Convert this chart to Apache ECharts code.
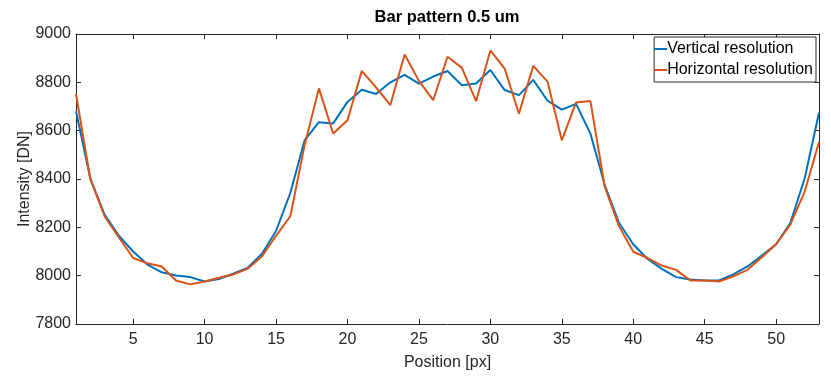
<!DOCTYPE html>
<html>
<head>
<meta charset="utf-8">
<script src="https://cdn.jsdelivr.net/npm/echarts@6/dist/echarts.min.js"></script>
<style>
  html, body { margin: 0; padding: 0; background: #fff; }
  #chart { width: 831px; height: 376px; }
</style>
</head>
<body>
<div id="chart"></div>
<script>
const positions = [];
for (let i = 1; i <= 53; i++) positions.push(i);

const vertical = [
  8680, 8403, 8253, 8165, 8100, 8046, 8014, 8001, 7994, 7976,
  7986, 8008, 8032, 8090, 8185, 8342, 8560, 8635, 8630, 8719,
  8769, 8752, 8800, 8831, 8795, 8824, 8847, 8788, 8795, 8851,
  8768, 8747, 8810, 8724, 8687, 8711, 8588, 8376, 8219, 8130,
  8069, 8028, 7994, 7984, 7980, 7980, 8005, 8038, 8083, 8130,
  8219, 8403, 8674
];
const horizontal = [
  8752, 8400, 8246, 8158, 8073, 8051, 8038, 7980, 7964, 7976,
  7991, 8005, 8028, 8079, 8165, 8246, 8540, 8775, 8588, 8643,
  8847, 8779, 8706, 8915, 8806, 8726, 8906, 8861, 8722, 8932,
  8857, 8670, 8868, 8803, 8560, 8717, 8723, 8369, 8205, 8099,
  8073, 8042, 8024, 7980, 7980, 7976, 7997, 8024, 8076, 8130,
  8212, 8348, 8553
];
const xTicks = [5, 10, 15, 20, 25, 30, 35, 40, 45, 50];

const axisColor = '#262626';
const font = 'Liberation Sans, Arial, sans-serif';

const chart = echarts.init(document.getElementById('chart'));

const xBase = {
  type: 'value', min: 1, max: 53,
  axisLine: { onZero: false, lineStyle: { color: axisColor, width: 1 } },
  axisTick: { inside: true, length: 5, customValues: xTicks, lineStyle: { color: axisColor } },
  splitLine: { show: false }
};
const yBase = {
  type: 'value', min: 7800, max: 9000, interval: 200,
  axisLine: { show: true, onZero: false, lineStyle: { color: axisColor, width: 1 } },
  axisTick: { show: true, inside: true, length: 5, lineStyle: { color: axisColor } },
  splitLine: { show: false }
};

chart.setOption({
  animation: false,
  textStyle: { fontFamily: font },
  title: {
    text: 'Bar pattern 0.5 um',
    left: 447, top: 9, padding: 0,
    textAlign: 'center',
    textStyle: { fontSize: 16.5, fontWeight: 'bold', color: '#000', fontFamily: font }
  },
  grid: { left: 76, right: 12, top: 34, bottom: 49 },
  legend: {
    orient: 'vertical',
    right: 15, top: 37,
    padding: [4, 3, 4, 0],
    itemGap: 5,
    itemWidth: 13,
    itemHeight: 2,
    icon: 'rect',
    borderColor: axisColor,
    borderWidth: 1,
    borderRadius: 0,
    backgroundColor: '#fff',
    textStyle: { fontSize: 16, color: '#000', fontFamily: font, padding: [0, 0, 0, -5] },
    data: ['Vertical resolution', 'Horizontal resolution']
  },
  xAxis: [
    Object.assign({}, xBase, {
      position: 'bottom',
      name: 'Position [px]', nameLocation: 'middle', nameGap: 31,
      nameTextStyle: { fontSize: 16, color: axisColor },
      axisLabel: { customValues: xTicks, fontSize: 16, color: axisColor, margin: 8 }
    }),
    Object.assign({}, xBase, { position: 'top', axisLabel: { show: false } })
  ],
  yAxis: [
    Object.assign({}, yBase, {
      position: 'left',
      name: 'Intensity [DN]', nameLocation: 'middle', nameGap: 43,
      nameMoveOverlap: false,
      nameTextStyle: { fontSize: 16, color: axisColor },
      axisLabel: { fontSize: 16, color: axisColor, margin: 5, formatter: (v) => String(v) }
    }),
    Object.assign({}, yBase, { position: 'right', axisLabel: { show: false } })
  ],
  series: [
    {
      name: 'Vertical resolution', type: 'line', symbol: 'none',
      xAxisIndex: 0, yAxisIndex: 0,
      lineStyle: { color: '#0072BD', width: 2 }, itemStyle: { color: '#0072BD' },
      data: positions.map((p, i) => [p, vertical[i]])
    },
    {
      name: 'Horizontal resolution', type: 'line', symbol: 'none',
      xAxisIndex: 0, yAxisIndex: 0,
      lineStyle: { color: '#D95319', width: 2 }, itemStyle: { color: '#D95319' },
      data: positions.map((p, i) => [p, horizontal[i]])
    }
  ]
});
</script>
</body>
</html>
